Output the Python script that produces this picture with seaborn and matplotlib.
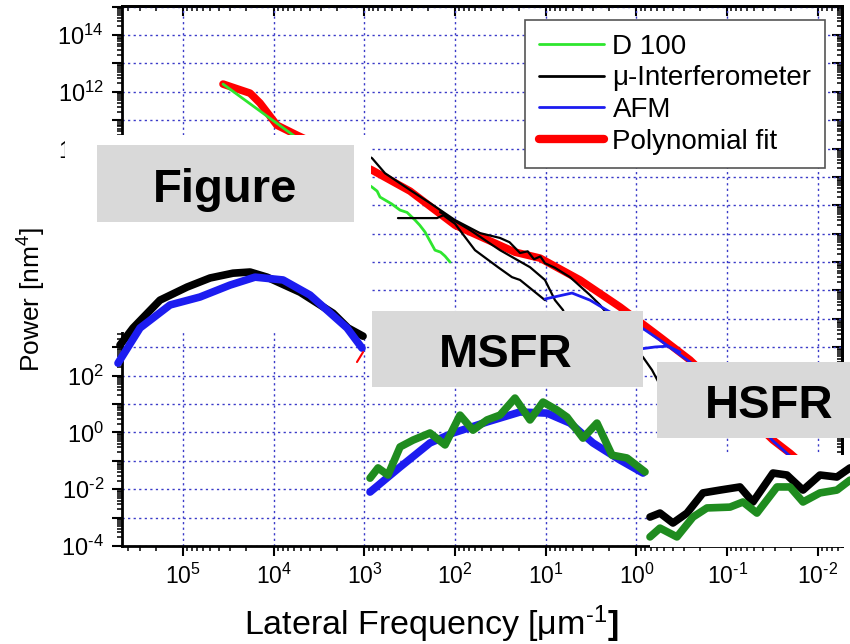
import numpy as np
import matplotlib
matplotlib.use("Agg")
import matplotlib.pyplot as plt
import seaborn as sns
from matplotlib.patches import Rectangle
from matplotlib.lines import Line2D
from matplotlib.ticker import LogLocator, FuncFormatter, NullFormatter, FixedLocator

# ---------------- data (log10 of frequency [1/um] and power [nm^4]) -------------
d100_logf = [4.559, 3.743, 2.916, 2.860, 2.828, 2.700, 2.607, 2.530, 2.442, 2.390, 2.332, 2.222, 2.160, 2.111, 2.056]
d100_logp = [12.27, 10.37, 8.64, 8.50, 8.29, 8.05, 7.83, 7.75, 7.48, 7.30, 7.06, 6.42, 6.35, 6.21, 6.00]

fit_logf = [4.559, 4.261, 4.151, 3.964, 3.743, 2.916, 2.497, 2.001, 1.340, 1.064, 0.623, 0.182, -0.259, -0.590, -1.505, -1.692, -1.968]
fit_logp = [12.27, 11.95, 11.60, 10.82, 10.47, 9.24, 8.50, 7.30, 6.35, 6.14, 5.37, 4.42, 3.36, 2.55, -0.27, -0.73, -1.50]

intf_u_logf = [3.050, 2.916, 2.773, 2.497, 2.277, 2.001, 1.725, 1.505, 1.400, 1.284, 1.200, 1.130, 1.060, 1.009, 0.900, 0.733, 0.513, 0.402, 0.270, 0.127, -0.072, -0.171, -0.259]
intf_u_logp = [9.90, 9.66, 9.13, 8.54, 8.08, 7.48, 7.02, 6.85, 6.70, 6.32, 6.38, 6.10, 6.20, 5.96, 5.80, 5.47, 4.84, 4.49, 3.96, 3.32, 2.65, 2.20, 1.67]

intf_m_logf = [2.166, 1.836, 1.505, 1.174, 1.009, 0.899, 0.810, 0.733]
intf_m_logp = [7.76, 7.13, 6.42, 5.82, 5.37, 4.66, 4.31, 3.61]

intf_l_logf = [2.630, 2.200, 2.130, 2.001, 1.781, 1.527, 1.373, 1.284, 1.009]
intf_l_logp = [7.55, 7.55, 7.65, 7.35, 6.42, 5.82, 5.47, 5.37, 4.66]

afm1_logf = [1.009, 0.711, 0.513, 0.292, 0.127, -0.094, -0.259, -0.590, -1.141, -1.505, -1.692, -1.968]
afm1_logp = [4.70, 4.91, 4.66, 4.24, 4.03, 3.61, 3.25, 2.48, 0.96, -0.30, -0.83, -1.61]
afm2_logf = [-0.039, -0.204, -0.347, -0.480]
afm2_logp = [2.94, 3.01, 3.04, 2.83]

# inset "Figure"
fig_black_logf = [5.695, 5.551, 5.254, 4.956, 4.702, 4.449, 4.261, 4.074, 3.710, 3.346, 3.181, 3.015]
fig_black_logp = [3.08, 3.68, 4.66, 5.12, 5.44, 5.61, 5.65, 5.47, 4.94, 4.20, 3.68, 3.39]
fig_blue_logf = [5.717, 5.474, 5.143, 4.813, 4.482, 4.206, 3.897, 3.600, 3.192, 3.026]
fig_blue_logp = [2.44, 3.68, 4.49, 4.77, 5.19, 5.47, 5.37, 4.84, 3.68, 2.97]
fig_red_logf = [3.082, 3.015]
fig_red_logp = [2.48, 2.83]

# inset "MSFR"
ms_green_logf = [2.938, 2.850, 2.740, 2.607, 2.464, 2.277, 2.111, 1.946, 1.803, 1.648, 1.505, 1.340, 1.174, 1.031, 0.877, 0.766, 0.590, 0.436, 0.270, 0.105, -0.094]
ms_green_logp = [-1.61, -1.25, -1.50, -0.51, -0.27, -0.02, -0.44, 0.61, 0.08, 0.44, 0.61, 1.21, 0.44, 1.07, 0.79, 0.54, -0.20, 0.33, -0.80, -0.90, -1.39]
ms_blue_logf = [2.938, 2.607, 2.277, 2.023, 1.648, 1.284, 0.987, 0.733, 0.480, 0.182, -0.072]
ms_blue_logp = [-2.10, -1.22, -0.37, -0.02, 0.37, 0.72, 0.68, 0.33, -0.37, -0.97, -1.43]

# inset "HSFR"
hs_black_logf = [-0.149, -0.259, -0.402, -0.557, -0.733, -0.921, -1.141, -1.284, -1.505, -1.659, -1.836, -2.023, -2.210, -2.354]
hs_black_logp = [-2.98, -2.84, -3.19, -2.84, -2.13, -2.03, -1.92, -2.45, -1.43, -1.50, -2.03, -1.50, -1.57, -1.25]
hs_green_logf = [-0.149, -0.259, -0.446, -0.623, -0.777, -1.031, -1.174, -1.328, -1.549, -1.692, -1.836, -2.023, -2.210, -2.354]
hs_green_logp = [-3.68, -3.37, -3.68, -2.98, -2.66, -2.63, -2.45, -2.84, -1.92, -1.92, -2.45, -2.13, -2.03, -1.68]

x_tick_exponents = [5, 4, 3, 2, 1, 0, -1, -2]
y_tick_exponents = list(range(-4, 16))

legend_labels = ["D 100", "\u03bc-Interferometer", "AFM", "Polynomial fit"]
panel_titles = ["Figure", "MSFR", "HSFR"]

# ---------------- style ----------------
sns.set_style("white")
plt.rcParams['font.family'] = ['Liberation Sans', 'DejaVu Sans']
plt.rcParams['mathtext.fontset'] = 'custom'
plt.rcParams['mathtext.rm'] = 'Liberation Sans'
plt.rcParams['mathtext.it'] = 'Liberation Sans:italic'
plt.rcParams['mathtext.bf'] = 'Liberation Sans:bold'
for k in ('text.color', 'axes.labelcolor', 'xtick.color', 'ytick.color', 'axes.edgecolor'):
    plt.rcParams[k] = 'black'

LIME = '#2ee62e'
DKGREEN = '#1f8c1f'
BLUE = '#1c1cf0'
RED = '#ff0000'
GRID = '#3a3ac8'

W, H = 850, 644
fig = plt.figure(figsize=(W / 100, H / 100), dpi=100)
fig.patch.set_facecolor('white')
pos = [122 / W, 98 / H, 720 / W, 540 / H]
XLIM = (10 ** 5.673, 10 ** -2.266)
YLIM = (1e-4, 10 ** 15.02)


def setup(a):
    a.set_xscale('log')
    a.set_yscale('log')
    a.set_xlim(*XLIM)
    a.set_ylim(*YLIM)


ax = fig.add_axes(pos, zorder=0)
setup(ax)


def draw(a, lf, lp, **kw):
    sns.lineplot(x=10 ** np.asarray(lf), y=10 ** np.asarray(lp), ax=a, sort=False,
                 estimator=None, legend=False, **kw)


# main curves
draw(ax, fit_logf, fit_logp, color=RED, linewidth=5.5, solid_capstyle='round', zorder=3)
draw(ax, d100_logf, d100_logp, color=LIME, linewidth=2, zorder=4)
draw(ax, intf_u_logf, intf_u_logp, color='black', linewidth=1.6, zorder=4)
draw(ax, intf_m_logf, intf_m_logp, color='black', linewidth=1.6, zorder=4)
draw(ax, intf_l_logf, intf_l_logp, color='black', linewidth=1.6, zorder=4)
draw(ax, afm1_logf, afm1_logp, color=BLUE, linewidth=2, zorder=4)
draw(ax, afm2_logf, afm2_logp, color=BLUE, linewidth=2, zorder=4)


def pow_label(v, p, every=1):
    e = int(round(np.log10(v)))
    if e % every:
        return ''
    if e < 0:
        return f'$10^{{\\text{{-}}{abs(e)}}}$'
    return f'$10^{{{e}}}$'


# ticks & grid
ax.xaxis.set_major_locator(FixedLocator([10.0 ** e for e in x_tick_exponents]))
ax.yaxis.set_major_locator(FixedLocator([10.0 ** e for e in y_tick_exponents]))
for axis in (ax.xaxis, ax.yaxis):
    axis.set_minor_locator(LogLocator(base=10, subs=np.arange(2, 10), numticks=60))
    axis.set_minor_formatter(NullFormatter())
ax.xaxis.set_major_formatter(FuncFormatter(lambda v, p: pow_label(v, p, 1)))
ax.yaxis.set_major_formatter(FuncFormatter(lambda v, p: pow_label(v, p, 2)))
ax.tick_params(which='both', direction='out', bottom=True, left=True, top=False, right=False,
               colors='black')
ax.tick_params(axis='x', labelsize=16.5, pad=6)
ax.tick_params(axis='y', labelsize=17, pad=6)
ax.tick_params(which='major', length=7, width=1.5)
ax.tick_params(which='minor', length=3.5, width=1.1)
ax.grid(True, which='major', color=GRID, linestyle=(0, (1.6, 2.4)), linewidth=1.0)
ax.set_axisbelow(True)
for s in ax.spines.values():
    s.set_linewidth(2)
    s.set_color('black')

# top / right inward ticks
secx = ax.secondary_xaxis('top')
secx.xaxis.set_major_locator(FixedLocator([10.0 ** e for e in x_tick_exponents]))
secx.xaxis.set_minor_locator(LogLocator(base=10, subs=np.arange(2, 10), numticks=60))
secx.tick_params(which='both', direction='in', labeltop=False)
secx.tick_params(which='major', length=7, width=1.5)
secx.tick_params(which='minor', length=3.5, width=1.1)
secy = ax.secondary_yaxis('right')
secy.yaxis.set_major_locator(FixedLocator([10.0 ** e for e in y_tick_exponents]))
secy.yaxis.set_minor_locator(LogLocator(base=10, subs=np.arange(2, 10), numticks=60))
secy.tick_params(which='both', direction='in', labelright=False)
secy.tick_params(which='major', length=7, width=1.5)
secy.tick_params(which='minor', length=3.5, width=1.1)
for sec in (secx, secy):
    for s in sec.spines.values():
        s.set_linewidth(2)

# legend
handles = [Line2D([], [], color=LIME, lw=2), Line2D([], [], color='black', lw=2),
           Line2D([], [], color=BLUE, lw=2), Line2D([], [], color=RED, lw=6)]
leg = ax.legend(handles, legend_labels, loc='upper left', bbox_to_anchor=(525 / W, 1 - 20 / H),
                bbox_transform=fig.transFigure, fontsize=20, frameon=True, fancybox=False,
                borderpad=0.5, labelspacing=0.2, handlelength=2.35, handletextpad=0.3,
                borderaxespad=0, framealpha=1)
leg.get_frame().set_edgecolor('#555555')
leg.get_frame().set_linewidth(1.2)

# axis labels
fig.text(431 / W, 9 / H, 'Lateral Frequency [\u03bcm$^{\\text{-}1}$$\\mathbf{]}$', fontsize=24.5,
         ha='center', va='baseline', color='black')
fig.text(32 / W, 1 - 300 / H, 'Power [nm$^{4}$]', fontsize=19, rotation=90, ha='center',
         va='center', color='black')

# overlay panels (white backgrounds and grey title boxes)
def fig_rect(x0, y0, x1, y1, color, z):
    r = Rectangle((x0 / W, 1 - y1 / H), (x1 - x0) / W, (y1 - y0) / H, transform=fig.transFigure,
                  facecolor=color, edgecolor='none', zorder=z)
    fig.add_artist(r)

fig_rect(65, 135, 371, 332, 'white', 1)
fig_rect(650, 455, 850, 547, 'white', 1)
fig_rect(97, 145, 354, 222, '#d9d9d9', 2)
fig_rect(372, 311, 643, 387, '#d9d9d9', 2)
fig_rect(657, 362, 850, 438, '#d9d9d9', 2)

title_pos = [(225.5, 202), (506, 367), (769.5, 418)]
for t, (px, py) in zip(panel_titles, title_pos):
    txt = fig.text(px / W, 1 - py / H, t, fontsize=34, fontweight='bold', ha='center',
                   va='baseline', color='black')
    txt.set_zorder(2.5)

# overlay axes with the inset curves
ax2 = fig.add_axes(pos, zorder=3)
setup(ax2)
ax2.axis('off')
ax2.patch.set_visible(False)
draw(ax2, fig_black_logf, fig_black_logp, color='black', linewidth=5.5, clip_on=False)
draw(ax2, fig_blue_logf, fig_blue_logp, color=BLUE, linewidth=5.5, clip_on=False)
draw(ax2, fig_red_logf, fig_red_logp, color=RED, linewidth=1.5, clip_on=False)
draw(ax2, ms_blue_logf, ms_blue_logp, color=BLUE, linewidth=5.5, clip_on=False)
draw(ax2, ms_green_logf, ms_green_logp, color=DKGREEN, linewidth=5.5, clip_on=False)
draw(ax2, hs_black_logf, hs_black_logp, color='black', linewidth=5.5, clip_on=False)
draw(ax2, hs_green_logf, hs_green_logp, color=DKGREEN, linewidth=5.5, clip_on=False)

fig.savefig('out.png', dpi=100, facecolor='white')
